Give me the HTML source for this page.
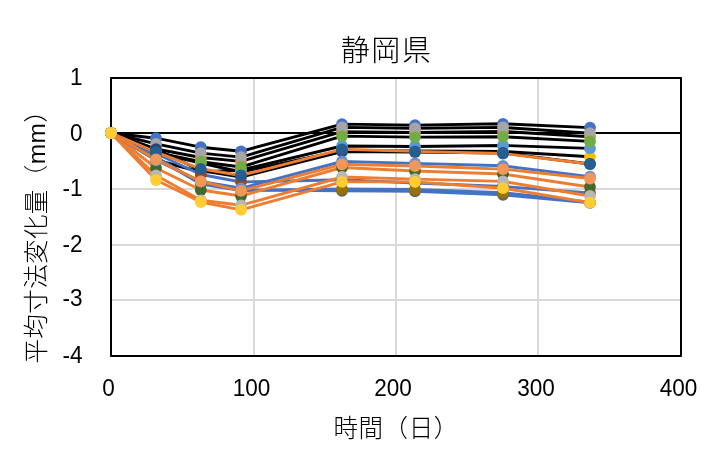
<!DOCTYPE html>
<html><head><meta charset="utf-8"><style>
html,body{margin:0;padding:0;background:#fff;}
body{width:718px;height:467px;overflow:hidden;position:relative;}
svg{position:absolute;left:0;top:0;}
.t{font-family:"Liberation Sans","Noto Sans CJK JP",sans-serif;fill:#000;}
.j{font-family:"Liberation Sans","Noto Sans CJK JP",sans-serif;fill:#000;}
</style></head><body>
<svg width="718" height="467" viewBox="0 0 718 467">
<rect width="718" height="467" fill="#fff"/>
<text class="j" x="340.7" y="61" font-size="29" font-weight="300" letter-spacing="1.6">静岡県</text>
<g class="t" font-size="23.3" text-anchor="end">
<text transform="translate(82.6,84.9) scale(0.97,1)">1</text>
<text transform="translate(82.6,140.6) scale(0.97,1)">0</text>
<text transform="translate(82.6,195.9) scale(0.97,1)">-1</text>
<text transform="translate(82.6,251.9) scale(0.97,1)">-2</text>
<text transform="translate(82.6,306.4) scale(0.97,1)">-3</text>
<text transform="translate(82.6,362.9) scale(0.97,1)">-4</text>
</g>
<g class="t" font-size="23.3" text-anchor="middle">
<text transform="translate(108.5,395.6) scale(0.97,1)">0</text>
<text transform="translate(251.5,395.6) scale(0.97,1)">100</text>
<text transform="translate(393,395.6) scale(0.97,1)">200</text>
<text transform="translate(536,395.6) scale(0.97,1)">300</text>
<text transform="translate(678.5,395.6) scale(0.97,1)">400</text>
</g>
<text class="j" x="333.4" y="437.2" font-size="24.5" font-weight="300" letter-spacing="0.6">時間（日）</text>
<text class="t" transform="translate(45.4,230.7) rotate(-90)" font-size="24.5" font-weight="300" letter-spacing="0.4" text-anchor="middle">平均寸法変化量（mm）</text>
<line x1="112" y1="189" x2="680" y2="189" stroke="#D9D9D9" stroke-width="2"/>
<line x1="112" y1="245" x2="680" y2="245" stroke="#D9D9D9" stroke-width="2"/>
<line x1="112" y1="300" x2="680" y2="300" stroke="#D9D9D9" stroke-width="2"/>
<line x1="254" y1="79" x2="254" y2="355" stroke="#D9D9D9" stroke-width="2"/>
<line x1="396" y1="79" x2="396" y2="355" stroke="#D9D9D9" stroke-width="2"/>
<line x1="538" y1="79" x2="538" y2="355" stroke="#D9D9D9" stroke-width="2"/>
<rect x="111" y="78" width="570" height="278" fill="none" stroke="#000" stroke-width="2" stroke-linejoin="round"/>
<line x1="111" y1="133" x2="681" y2="133" stroke="#000" stroke-width="2"/>
<polyline points="111,133 156,138.2 200.8,147.2 241,151.3 342,124.1 415,125.1 503,123.8 590,127.6" fill="none" stroke="#000000" stroke-width="2.9" stroke-linejoin="round" stroke-linecap="round"/>
<polyline points="111,133 156,149 200.8,157.5 241,161.4 342,131.7 415,132.5 503,131.5 590,136.8" fill="none" stroke="#000000" stroke-width="2.9" stroke-linejoin="round" stroke-linecap="round"/>
<polyline points="111,133 156,143.8 200.8,153.1 241,157.1 342,127.4 415,128.3 503,127.4 590,133.2" fill="none" stroke="#000000" stroke-width="2.9" stroke-linejoin="round" stroke-linecap="round"/>
<polyline points="111,133 156,152.5 200.8,163 241,172 342,150.6 415,151 503,151.5 590,156.8" fill="none" stroke="#000000" stroke-width="2.9" stroke-linejoin="round" stroke-linecap="round"/>
<polyline points="111,133 156,160 200.8,172 241,170 342,146 415,146.5 503,145.5 590,148.4" fill="none" stroke="#000000" stroke-width="2.9" stroke-linejoin="round" stroke-linecap="round"/>
<polyline points="111,133 156,152.4 200.8,161.7 241,167 342,136.1 415,137.1 503,136.7 590,141.4" fill="none" stroke="#000000" stroke-width="2.9" stroke-linejoin="round" stroke-linecap="round"/>
<polyline points="111,133 156,149.1 200.8,170.5 241,177 342,151.5 415,152 503,153 590,164" fill="none" stroke="#000000" stroke-width="2.9" stroke-linejoin="round" stroke-linecap="round"/>
<polyline points="111,133 156,153.5 200.8,174.5 241,182 342,179.8 415,183 503,186.5 590,193" fill="none" stroke="#4472C4" stroke-width="2.9" stroke-linejoin="round" stroke-linecap="round"/>
<polyline points="111,133 156,157 200.8,183 241,190 342,190.8 415,191.3 503,194.8 590,202.9" fill="none" stroke="#4472C4" stroke-width="2.9" stroke-linejoin="round" stroke-linecap="round"/>
<polyline points="111,133 156,158 200.8,184 241,190.5 342,189 415,189.5 503,192.6 590,202.3" fill="none" stroke="#4472C4" stroke-width="2.9" stroke-linejoin="round" stroke-linecap="round"/>
<polyline points="111,133 156,152.2 200.8,168.8 241,175.5 342,149.3 415,151.4 503,153.5 590,164" fill="none" stroke="#ED7D31" stroke-width="2.9" stroke-linejoin="round" stroke-linecap="round"/>
<polyline points="111,133 156,168 200.8,190 241,196 342,167.5 415,171 503,174 590,187" fill="none" stroke="#ED7D31" stroke-width="2.9" stroke-linejoin="round" stroke-linecap="round"/>
<polyline points="111,133 156,160.3 200.8,181.5 241,188.3 342,161.5 415,163.4 503,165.8 590,176.6" fill="none" stroke="#4472C4" stroke-width="2.9" stroke-linejoin="round" stroke-linecap="round"/>
<polyline points="111,133 156,159.5 200.8,181.4 241,190.8 342,164.3 415,166 503,169.1 590,178.5" fill="none" stroke="#ED7D31" stroke-width="2.9" stroke-linejoin="round" stroke-linecap="round"/>
<polyline points="111,133 156,175.3 200.8,200.3 241,205.3 342,177 415,179.1 503,181.4 590,196" fill="none" stroke="#ED7D31" stroke-width="2.9" stroke-linejoin="round" stroke-linecap="round"/>
<polyline points="111,133 156,180 200.8,202 241,209.8 342,181.8 415,181.9 503,188.2 590,202.6" fill="none" stroke="#ED7D31" stroke-width="2.9" stroke-linejoin="round" stroke-linecap="round"/>
<circle cx="111" cy="133" r="5.9" fill="#4472C4"/>
<circle cx="156" cy="138.2" r="5.9" fill="#4472C4"/>
<circle cx="200.8" cy="147.2" r="5.9" fill="#4472C4"/>
<circle cx="241" cy="151.3" r="5.9" fill="#4472C4"/>
<circle cx="342" cy="124.1" r="5.9" fill="#4472C4"/>
<circle cx="415" cy="125.1" r="5.9" fill="#4472C4"/>
<circle cx="503" cy="123.8" r="5.9" fill="#4472C4"/>
<circle cx="590" cy="127.6" r="5.9" fill="#4472C4"/>
<circle cx="111" cy="133" r="5.9" fill="#ED7D31"/>
<circle cx="156" cy="149" r="5.9" fill="#ED7D31"/>
<circle cx="200.8" cy="157.5" r="5.9" fill="#ED7D31"/>
<circle cx="241" cy="161.4" r="5.9" fill="#ED7D31"/>
<circle cx="342" cy="131.7" r="5.9" fill="#ED7D31"/>
<circle cx="415" cy="132.5" r="5.9" fill="#ED7D31"/>
<circle cx="503" cy="131.5" r="5.9" fill="#ED7D31"/>
<circle cx="590" cy="136.8" r="5.9" fill="#ED7D31"/>
<circle cx="111" cy="133" r="5.9" fill="#A5A5A5"/>
<circle cx="156" cy="143.8" r="5.9" fill="#A5A5A5"/>
<circle cx="200.8" cy="153.1" r="5.9" fill="#A5A5A5"/>
<circle cx="241" cy="157.1" r="5.9" fill="#A5A5A5"/>
<circle cx="342" cy="127.4" r="5.9" fill="#A5A5A5"/>
<circle cx="415" cy="128.3" r="5.9" fill="#A5A5A5"/>
<circle cx="503" cy="127.4" r="5.9" fill="#A5A5A5"/>
<circle cx="590" cy="133.2" r="5.9" fill="#A5A5A5"/>
<circle cx="111" cy="133" r="5.9" fill="#FFC000"/>
<circle cx="156" cy="152.5" r="5.9" fill="#FFC000"/>
<circle cx="200.8" cy="163" r="5.9" fill="#FFC000"/>
<circle cx="241" cy="172" r="5.9" fill="#FFC000"/>
<circle cx="342" cy="150.6" r="5.9" fill="#FFC000"/>
<circle cx="415" cy="151" r="5.9" fill="#FFC000"/>
<circle cx="503" cy="151.5" r="5.9" fill="#FFC000"/>
<circle cx="590" cy="156.8" r="5.9" fill="#FFC000"/>
<circle cx="111" cy="133" r="5.9" fill="#5B9BD5"/>
<circle cx="156" cy="160" r="5.9" fill="#5B9BD5"/>
<circle cx="200.8" cy="172" r="5.9" fill="#5B9BD5"/>
<circle cx="241" cy="170" r="5.9" fill="#5B9BD5"/>
<circle cx="342" cy="146" r="5.9" fill="#5B9BD5"/>
<circle cx="415" cy="146.5" r="5.9" fill="#5B9BD5"/>
<circle cx="503" cy="145.5" r="5.9" fill="#5B9BD5"/>
<circle cx="590" cy="148.4" r="5.9" fill="#5B9BD5"/>
<circle cx="111" cy="133" r="5.9" fill="#70AD47"/>
<circle cx="156" cy="152.4" r="5.9" fill="#70AD47"/>
<circle cx="200.8" cy="161.7" r="5.9" fill="#70AD47"/>
<circle cx="241" cy="167" r="5.9" fill="#70AD47"/>
<circle cx="342" cy="136.1" r="5.9" fill="#70AD47"/>
<circle cx="415" cy="137.1" r="5.9" fill="#70AD47"/>
<circle cx="503" cy="136.7" r="5.9" fill="#70AD47"/>
<circle cx="590" cy="141.4" r="5.9" fill="#70AD47"/>
<circle cx="111" cy="133" r="5.9" fill="#264478"/>
<circle cx="156" cy="149.1" r="5.9" fill="#264478"/>
<circle cx="200.8" cy="170.5" r="5.9" fill="#264478"/>
<circle cx="241" cy="177" r="5.9" fill="#264478"/>
<circle cx="342" cy="151.5" r="5.9" fill="#264478"/>
<circle cx="415" cy="152" r="5.9" fill="#264478"/>
<circle cx="503" cy="153" r="5.9" fill="#264478"/>
<circle cx="590" cy="164" r="5.9" fill="#264478"/>
<circle cx="111" cy="133" r="5.9" fill="#9E480E"/>
<circle cx="156" cy="153.5" r="5.9" fill="#9E480E"/>
<circle cx="200.8" cy="174.5" r="5.9" fill="#9E480E"/>
<circle cx="241" cy="182" r="5.9" fill="#9E480E"/>
<circle cx="342" cy="179.8" r="5.9" fill="#9E480E"/>
<circle cx="415" cy="183" r="5.9" fill="#9E480E"/>
<circle cx="503" cy="186.5" r="5.9" fill="#9E480E"/>
<circle cx="590" cy="193" r="5.9" fill="#9E480E"/>
<circle cx="111" cy="133" r="5.9" fill="#636363"/>
<circle cx="156" cy="157" r="5.9" fill="#636363"/>
<circle cx="200.8" cy="183" r="5.9" fill="#636363"/>
<circle cx="241" cy="190" r="5.9" fill="#636363"/>
<circle cx="342" cy="190.8" r="5.9" fill="#636363"/>
<circle cx="415" cy="191.3" r="5.9" fill="#636363"/>
<circle cx="503" cy="194.8" r="5.9" fill="#636363"/>
<circle cx="590" cy="202.9" r="5.9" fill="#636363"/>
<circle cx="111" cy="133" r="5.9" fill="#997300"/>
<circle cx="156" cy="158" r="5.9" fill="#997300"/>
<circle cx="200.8" cy="184" r="5.9" fill="#997300"/>
<circle cx="241" cy="190.5" r="5.9" fill="#997300"/>
<circle cx="342" cy="189" r="5.9" fill="#997300"/>
<circle cx="415" cy="189.5" r="5.9" fill="#997300"/>
<circle cx="503" cy="192.6" r="5.9" fill="#997300"/>
<circle cx="590" cy="202.3" r="5.9" fill="#997300"/>
<circle cx="111" cy="133" r="5.9" fill="#255E91"/>
<circle cx="156" cy="152.2" r="5.9" fill="#255E91"/>
<circle cx="200.8" cy="168.8" r="5.9" fill="#255E91"/>
<circle cx="241" cy="175.5" r="5.9" fill="#255E91"/>
<circle cx="342" cy="149.3" r="5.9" fill="#255E91"/>
<circle cx="415" cy="151.4" r="5.9" fill="#255E91"/>
<circle cx="503" cy="153.5" r="5.9" fill="#255E91"/>
<circle cx="590" cy="164" r="5.9" fill="#255E91"/>
<circle cx="111" cy="133" r="5.9" fill="#43682B"/>
<circle cx="156" cy="168" r="5.9" fill="#43682B"/>
<circle cx="200.8" cy="190" r="5.9" fill="#43682B"/>
<circle cx="241" cy="196" r="5.9" fill="#43682B"/>
<circle cx="342" cy="167.5" r="5.9" fill="#43682B"/>
<circle cx="415" cy="171" r="5.9" fill="#43682B"/>
<circle cx="503" cy="174" r="5.9" fill="#43682B"/>
<circle cx="590" cy="187" r="5.9" fill="#43682B"/>
<circle cx="111" cy="133" r="5.9" fill="#698ED0"/>
<circle cx="156" cy="160.3" r="5.9" fill="#698ED0"/>
<circle cx="200.8" cy="181.5" r="5.9" fill="#698ED0"/>
<circle cx="241" cy="188.3" r="5.9" fill="#698ED0"/>
<circle cx="342" cy="161.5" r="5.9" fill="#698ED0"/>
<circle cx="415" cy="163.4" r="5.9" fill="#698ED0"/>
<circle cx="503" cy="165.8" r="5.9" fill="#698ED0"/>
<circle cx="590" cy="176.6" r="5.9" fill="#698ED0"/>
<circle cx="111" cy="133" r="5.9" fill="#F1975A"/>
<circle cx="156" cy="159.5" r="5.9" fill="#F1975A"/>
<circle cx="200.8" cy="181.4" r="5.9" fill="#F1975A"/>
<circle cx="241" cy="190.8" r="5.9" fill="#F1975A"/>
<circle cx="342" cy="164.3" r="5.9" fill="#F1975A"/>
<circle cx="415" cy="166" r="5.9" fill="#F1975A"/>
<circle cx="503" cy="169.1" r="5.9" fill="#F1975A"/>
<circle cx="590" cy="178.5" r="5.9" fill="#F1975A"/>
<circle cx="111" cy="133" r="5.9" fill="#B7B7B7"/>
<circle cx="156" cy="175.3" r="5.9" fill="#B7B7B7"/>
<circle cx="200.8" cy="200.3" r="5.9" fill="#B7B7B7"/>
<circle cx="241" cy="205.3" r="5.9" fill="#B7B7B7"/>
<circle cx="342" cy="177" r="5.9" fill="#B7B7B7"/>
<circle cx="415" cy="179.1" r="5.9" fill="#B7B7B7"/>
<circle cx="503" cy="181.4" r="5.9" fill="#B7B7B7"/>
<circle cx="590" cy="196" r="5.9" fill="#B7B7B7"/>
<circle cx="111" cy="133" r="5.9" fill="#FFCD33"/>
<circle cx="156" cy="180" r="5.9" fill="#FFCD33"/>
<circle cx="200.8" cy="202" r="5.9" fill="#FFCD33"/>
<circle cx="241" cy="209.8" r="5.9" fill="#FFCD33"/>
<circle cx="342" cy="181.8" r="5.9" fill="#FFCD33"/>
<circle cx="415" cy="181.9" r="5.9" fill="#FFCD33"/>
<circle cx="503" cy="188.2" r="5.9" fill="#FFCD33"/>
<circle cx="590" cy="202.6" r="5.9" fill="#FFCD33"/>
</svg>
</body></html>
